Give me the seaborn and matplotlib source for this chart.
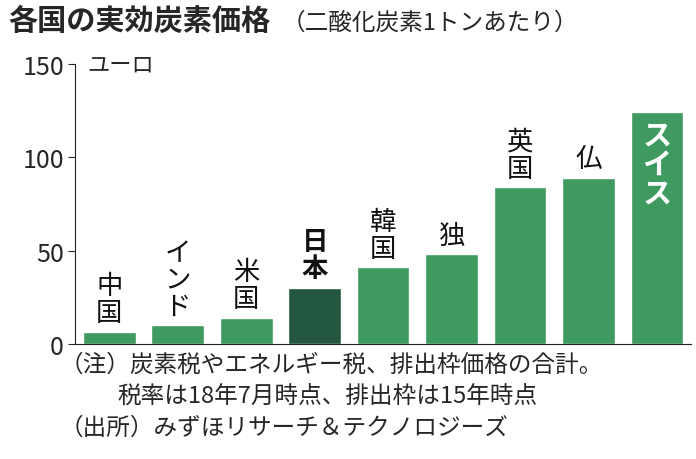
import matplotlib
matplotlib.use("Agg")
import matplotlib.pyplot as plt
import seaborn as sns
import pandas as pd

sns.set_style("white")
plt.rcParams['font.family'] = ['Noto Sans CJK JP', 'DejaVu Sans']

countries = ["中国", "インド", "米国", "日本", "韓国", "独", "英国", "仏", "スイス"]
values = [6.5, 10, 14, 30, 41, 48, 84, 89, 124]
colors = ["#3f9a5f"] * 3 + ["#24573f"] + ["#3f9a5f"] * 5

df = pd.DataFrame({"country": countries, "value": values})
fig = plt.figure(figsize=(6.96, 4.6), dpi=100)
ax = fig.add_axes([0.108, 0.25, 0.885, 0.609])
sns.barplot(data=df, x="country", y="value", hue="country", palette=colors,
            legend=False, width=0.77, ax=ax, saturation=1)
ax.set_ylim(0, 150)
ax.set_xlim(-0.5, 8.5)
ax.set_yticks([0, 50, 100, 150])
ax.tick_params(axis='y', labelsize=18, length=5, direction='out', left=True, pad=3)
ax.set_xticks([])
ax.set_xlabel(""); ax.set_ylabel("")
for s in ["top", "right"]:
    ax.spines[s].set_visible(False)
ax.spines["left"].set_color("#222"); ax.spines["bottom"].set_color("#222")
ax.text(0.02, 150, "ユーロ", fontsize=16, va="center", ha="left", transform=ax.get_yaxis_transform())

for i, (c, v) in enumerate(zip(countries, values)):
    txt = "\n".join(c)
    if c == "スイス":
        ax.text(i, v - 4, txt, ha="center", va="top", fontsize=21, color="white",
                fontweight="bold", linespacing=0.95)
    else:
        ax.text(i, v + 3, txt, ha="center", va="bottom", fontsize=19,
                fontweight="bold" if c == "日本" else "normal", color="#111", linespacing=1.0)

fig.text(0.012, 0.955, "各国の実効炭素価格", fontsize=21, fontweight="bold", va="center")
fig.text(0.405, 0.95, "（二酸化炭素1トンあたり）", fontsize=17, va="center")
fig.text(0.085, 0.205, "（注）炭素税やエネルギー税、排出枠価格の合計。", fontsize=17, va="center")
fig.text(0.168, 0.138, "税率は18年7月時点、排出枠は15年時点", fontsize=17, va="center")
fig.text(0.085, 0.07, "（出所）みずほリサーチ＆テクノロジーズ", fontsize=17, va="center")
fig.savefig("out.png", dpi=100)
